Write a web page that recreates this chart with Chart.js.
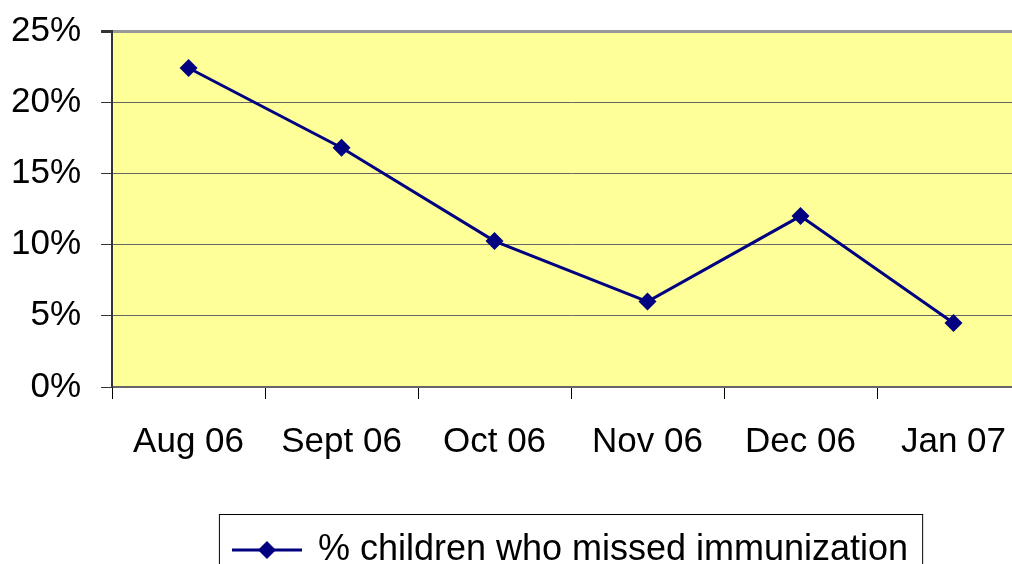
<!DOCTYPE html>
<html>
<head>
<meta charset="utf-8">
<script src="https://cdn.jsdelivr.net/npm/chart.js@4/dist/chart.umd.min.js"></script>
<style>
  html, body { margin: 0; padding: 0; background: #fff; }
  #wrap { width: 1012px; height: 564px; overflow: hidden; position: relative; }
  #wrap canvas { position: absolute; left: -21px; top: -10px; }
</style>
</head>
<body>
<div id="wrap"><canvas id="chart" width="1061" height="588"></canvas></div>
<script>
// dados do grafico
const months = ['Aug 06', 'Sept 06', 'Oct 06', 'Nov 06', 'Dec 06', 'Jan 07'];
const missedPct = [22.4, 16.8, 10.25, 6.0, 12.0, 4.5];
const yTicks = [0, 5, 10, 15, 20, 25];
const seriesLabel = '% children who missed immunization';

const NAVY = '#000080';
const FONT = "'Liberation Sans', Arial, sans-serif";

// simbolo da legenda: linha com losango
function legendSymbol() {
    const c = document.createElement('canvas');
    c.width = 70;
    c.height = 22;
    const g = c.getContext('2d');
    g.strokeStyle = NAVY;
    g.lineWidth = 3;
    g.beginPath();
    g.moveTo(0, 11);
    g.lineTo(70, 11);
    g.stroke();
    g.fillStyle = NAVY;
    g.beginPath();
    g.moveTo(35, 2);
    g.lineTo(44, 11);
    g.lineTo(35, 20);
    g.lineTo(26, 11);
    g.closePath();
    g.fill();
    return c;
}

// fundo amarelo da area do grafico
const plotBackground = {
    id: 'plotBackground',
    beforeDraw(chart) {
        const { ctx, chartArea: a } = chart;
        ctx.save();
        ctx.fillStyle = '#FFFF99';
        ctx.fillRect(a.left, a.top, a.right - a.left, a.bottom - a.top);
        ctx.restore();
    }
};

// moldura em volta da legenda
const legendFrame = {
    id: 'legendFrame',
    afterDraw(chart) {
        const boxes = chart.legend && chart.legend.legendHitBoxes;
        if (!boxes || !boxes.length) return;
        const b = boxes[0];
        const ctx = chart.ctx;
        ctx.save();
        ctx.strokeStyle = '#000';
        ctx.lineWidth = 1;
        ctx.strokeRect(b.left - 14.5, b.top - 17.5, b.width + 29, b.height + 80);
        ctx.restore();
    }
};

const ctx = document.getElementById('chart').getContext('2d');
new Chart(ctx, {
    type: 'line',
    data: {
        labels: months,
        datasets: [{
            label: seriesLabel,
            data: missedPct,
            borderColor: NAVY,
            backgroundColor: NAVY,
            borderWidth: 3,
            pointStyle: 'rectRot',
            pointRadius: 9,
            pointHoverRadius: 9,
            pointBorderWidth: 0,
            tension: 0,
            fill: false
        }]
    },
    options: {
        responsive: false,
        animation: false,
        layout: {
            padding: { top: 2, left: 12, right: 10, bottom: 0 }
        },
        plugins: {
            tooltip: { enabled: false },
            legend: {
                position: 'bottom',
                fullSize: false,
                labels: {
                    usePointStyle: true,
                    pointStyle: legendSymbol(),
                    pointStyleWidth: 66,
                    padding: 47,
                    color: '#000',
                    font: { family: FONT, size: 36 }
                }
            }
        },
        scales: {
            x: {
                offset: true,
                grid: {
                    offset: true,
                    drawOnChartArea: false,
                    drawTicks: true,
                    tickLength: 12,
                    color: '#000'
                },
                border: { color: '#666', width: 2 },
                ticks: {
                    color: '#000',
                    padding: 22,
                    maxRotation: 0,
                    font: { family: FONT, size: 35 }
                }
            },
            y: {
                min: 0,
                max: 25,
                afterBuildTicks(axis) {
                    axis.ticks = yTicks.map(v => ({ value: v }));
                },
                grid: {
                    color: ctx => ctx.tick && ctx.tick.value === 25 ? '#999' : '#666',
                    lineWidth: ctx => ctx.tick && ctx.tick.value === 25 ? 3 : 1,
                    tickColor: '#333',
                    tickLength: 11
                },
                border: { color: '#333', width: 2 },
                ticks: {
                    color: '#000',
                    padding: 20,
                    font: { family: FONT, size: 35 },
                    callback: v => v + '%'
                }
            }
        }
    },
    plugins: [plotBackground, legendFrame]
});
</script>
</body>
</html>
